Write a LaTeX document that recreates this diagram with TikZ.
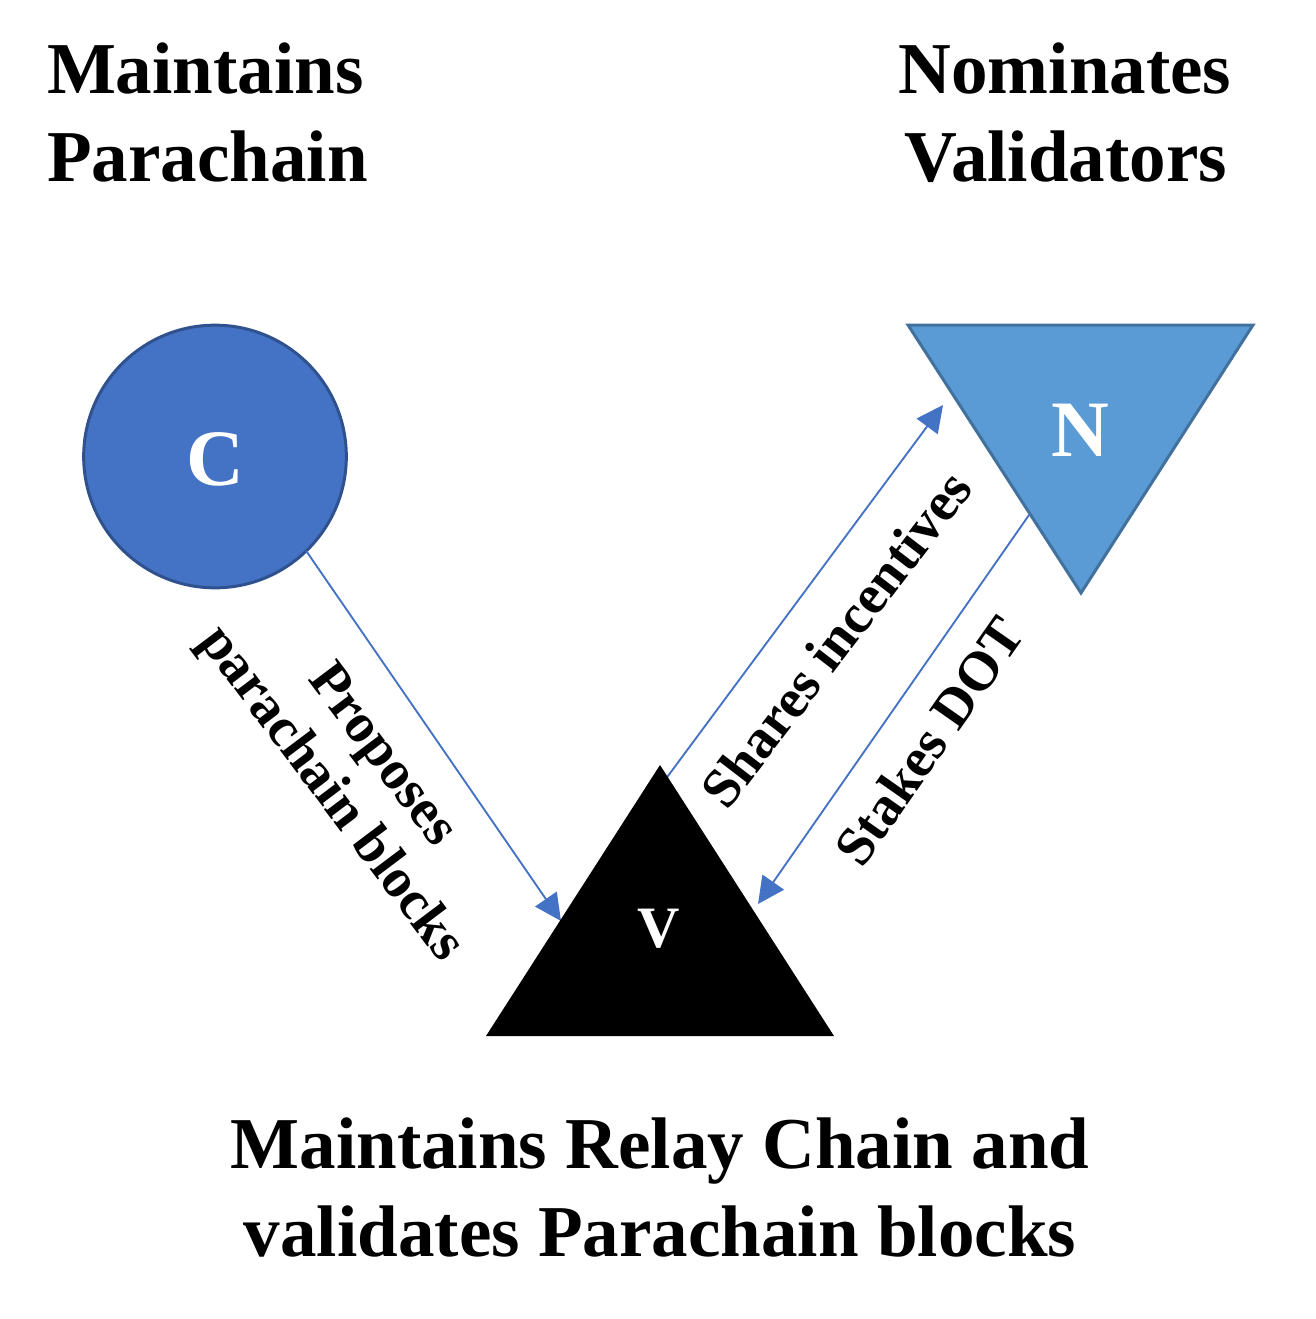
\documentclass[tikz,border=0pt]{standalone}
\usepackage{fontspec}
\setmainfont{Liberation Serif}
\usetikzlibrary{arrows.meta,calc}
\definecolor{cfill}{HTML}{4472C4}
\definecolor{cdraw}{HTML}{2F528F}
\definecolor{nfill}{HTML}{5B9BD5}
\definecolor{ndraw}{HTML}{41719C}
\definecolor{arr}{HTML}{4472C4}
\begin{document}
\begin{tikzpicture}[x=0.75pt,y=-0.75pt,
  lbl/.style={font=\fontsize{54.8}{66}\selectfont\bfseries, inner sep=0pt, outer sep=0pt},
  rlbl/.style={font=\fontsize{41.5}{48}\selectfont\bfseries, inner sep=0pt, outer sep=0pt, align=center},
  bigletter/.style={text=white, font=\fontsize{60}{60}\selectfont\bfseries, inner sep=0pt},
  conn/.style={draw=arr, line width=1.4pt, -{Triangle[length=20pt,width=19.5pt]}}]
\useasboundingbox (0,0) rectangle (1315,1319);
% geometry
\coordinate (vA) at (660,765);
\coordinate (vL) at (486,1036);
\coordinate (vR) at (834,1036);
\coordinate (nL) at (908,325);
\coordinate (nR) at (1253,325);
\coordinate (nB) at (1081,593);
\coordinate (pEnd) at (561,921);
\coordinate (sStart) at (665,780);
\coordinate (sEnd) at (943,405);
\coordinate (kStart) at (1029,515);
\coordinate (kEnd) at (758,904);
% circle C
\node[circle, draw=cdraw, fill=cfill, line width=2.25pt, minimum size=197pt, inner sep=0pt, outer sep=0pt] (C) at (215,456.5) {};
% connectors
\draw[conn] (C.-46.7) -- (pEnd);
\draw[conn] (sStart) -- (sEnd);
\draw[conn] (kStart) -- (kEnd);
% triangles
\fill[black] (vA) -- (vL) -- (vR) -- cycle;
\draw[draw=ndraw, fill=nfill, line width=2.25pt, line join=miter] (nL) -- (nR) -- (nB) -- cycle;
% letters
\node[bigletter] (Cl) at (215,459) {C};
\node[bigletter] (Nl) at (1080,430) {N};
\node[bigletter, font=\fontsize{44}{44}\selectfont\bfseries] (Vl) at (659,929) {V};
% headings
\node[lbl, anchor=base west] (t1) at (47,94) {Maintains};
\node[lbl, anchor=base west] (t2) at (47,182) {Parachain};
\node[lbl, anchor=base] (t3) at (1065,94) {Nominates};
\node[lbl, anchor=base] (t4) at (1066,182) {Validators};
\node[lbl, anchor=base] (b1) at (660,1168) {Maintains Relay Chain and};
\node[lbl, anchor=base] (b2) at (660,1256) {validates Parachain blocks};
% edge labels
\node[rlbl, rotate=-53] (lp) at (355,776) {Proposes\\parachain blocks};
\node[rlbl, rotate=52.5] (ls) at (836,639) {Shares incentives};
\node[rlbl, rotate=55] (lk) at (929,741) {Stakes DOT};
\end{tikzpicture}
\end{document}
